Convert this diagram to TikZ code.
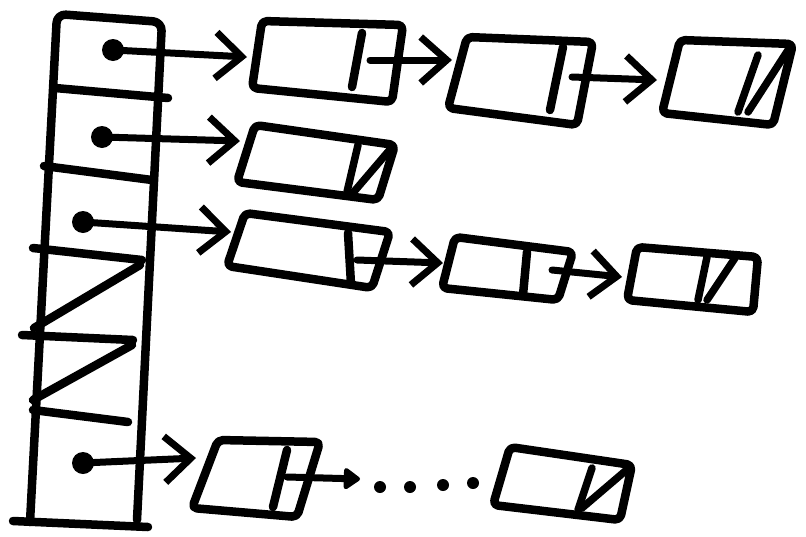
\documentclass[tikz,border=0pt]{standalone}
\usetikzlibrary{arrows.meta}
\begin{document}
\begin{tikzpicture}[x=1pt,y=-1pt, line cap=round, line join=round,
  ink/.style={line width=8.5pt},
  boxink/.style={line width=8.5pt, rounded corners=5pt},
  nullink/.style={line width=7.5pt},
  ptr/.style={line width=7pt, -{Straight Barb[length=26pt,width=46pt]}},
  ptrfill/.style={line width=7pt, -{Triangle[length=18pt,width=24pt,round]}},
  dot/.style={circle, fill, inner sep=0pt, minimum size=22pt},
  ell/.style={circle, fill, inner sep=0pt, minimum size=12pt}]
\useasboundingbox (0,0) rectangle (806,536);

% ---- hash table ----
\draw[ink, rounded corners=9pt] (30,522) -- (57,14) -- (162,22) -- (137,520);
\draw[ink] (13,521) -- (148,527);
\draw[ink] (55,88) -- (168,98);
\draw[ink] (44,166) -- (152,180);
\draw[ink] (33,248) -- (142,260);
\draw[ink] (140,265) -- (34,328);
\draw[ink] (22,335) -- (133,340);
\draw[ink] (132,345) -- (33,400);
\draw[ink] (33,410) -- (128,422);

% ---- bucket 1 ----
\node[dot] (p1) at (113,50) {};
\coordinate (a1in) at (247,57);
\draw[ptr] (p1.center) -- (a1in);
\draw[boxink] (262,21) -- (403,25) -- (392,102) -- (252,88) -- cycle;
\draw[ink] (362,33) -- (352,87);
\coordinate (a1out) at (370,60);
\coordinate (a2in) at (452,60);
\draw[ptr] (a1out) -- (a2in);
\draw[boxink] (467,37) -- (593,42) -- (577,125) -- (448,108) -- cycle;
\draw[ink] (563,47) -- (550,110);
\coordinate (a2out) at (572,77);
\coordinate (a3in) at (657,80);
\draw[ptr] (a2out) -- (a3in);
\draw[boxink] (680,40) -- (793,44) -- (773,125) -- (662,113) -- cycle;
\draw[nullink] (758,55) -- (738,112);
\draw[nullink] (790,47) -- (748,112);

% ---- bucket 2 ----
\node[dot] (p2) at (102,137) {};
\coordinate (b1in) at (240,141);
\draw[ptr] (p2.center) -- (b1in);
\draw[boxink] (255,125) -- (395,145) -- (378,200) -- (237,182) -- cycle;
\draw[nullink] (358,145) -- (347,192);
\draw[nullink] (393,146) -- (352,194);

% ---- bucket 3 ----
\node[dot] (p3) at (83,222) {};
\coordinate (c1in) at (231,232);
\draw[ptr] (p3.center) -- (c1in);
\draw[boxink] (245,213) -- (390,232) -- (372,288) -- (227,266) -- cycle;
\draw[ink] (348,233) -- (351,284);
\coordinate (c1out) at (357,260);
\coordinate (c2in) at (443,263);
\draw[ptr] (c1out) -- (c2in);
\draw[boxink] (455,237) -- (573,252) -- (558,300) -- (442,288) -- cycle;
\draw[ink] (527,252) -- (523,295);
\coordinate (c2out) at (552,270);
\coordinate (c3in) at (622,277);
\draw[ptr] (c2out) -- (c3in);
\draw[boxink] (637,247) -- (758,257) -- (753,312) -- (627,300) -- cycle;
\draw[nullink] (707,257) -- (698,300);
\draw[nullink] (735,258) -- (707,300);

% ---- last bucket ----
\node[dot] (p6) at (83,463) {};
\coordinate (d1in) at (196,458);
\draw[ptr] (p6.center) -- (d1in);
\draw[boxink] (218,440) -- (320,442) -- (297,517) -- (192,508) -- cycle;
\draw[ink] (287,450) -- (273,507);
\coordinate (d1out) at (287,477);
\coordinate (dd) at (360,479);
\draw[ptrfill] (d1out) -- (dd);
\node[ell] (e1) at (380,487) {};
\node[ell] (e2) at (410,487) {};
\node[ell] (e3) at (443,485) {};
\node[ell] (e4) at (473,483) {};
\draw[boxink] (510,447) -- (632,465) -- (620,520) -- (493,505) -- cycle;
\draw[nullink] (592,468) -- (578,510);
\draw[nullink] (630,467) -- (582,508);
\end{tikzpicture}
\end{document}
